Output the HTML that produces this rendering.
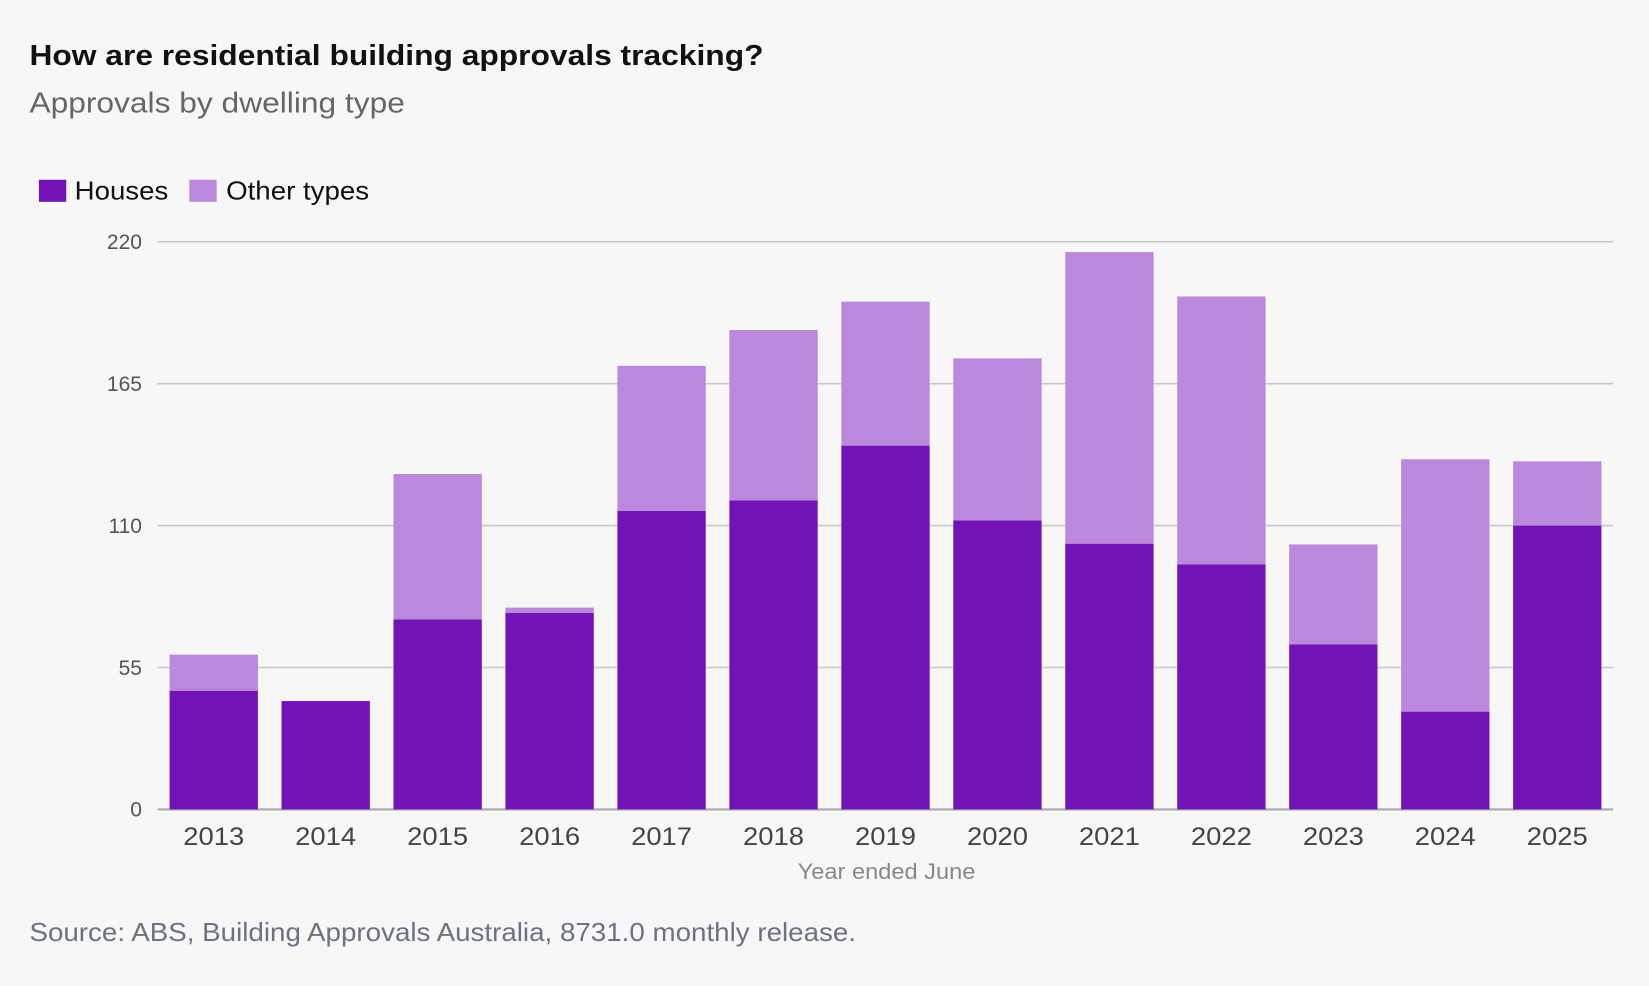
<!DOCTYPE html>
<html><head><meta charset="utf-8"><style>
html,body{margin:0;padding:0;background:#f7f7f8;}
svg{display:block;font-family:"Liberation Sans",Arial,sans-serif;}
</style></head><body>
<svg id="chart" width="1649" height="986" viewBox="0 0 1568 938" preserveAspectRatio="none">
<rect width="1568" height="938" fill="#f7f7f8"/>
<text x="28" y="62" font-size="27" font-weight="bold" fill="#111" textLength="698" lengthAdjust="spacingAndGlyphs">How are residential building approvals tracking?</text>
<text x="28" y="107" font-size="27" fill="#666" textLength="357" lengthAdjust="spacingAndGlyphs">Approvals by dwelling type</text>
<g>
<rect x="37" y="171" width="26" height="21" fill="#7213b8"/>
<text x="71" y="190" font-size="25" fill="#111" textLength="89" lengthAdjust="spacingAndGlyphs">Houses</text>
<rect x="180" y="171" width="26" height="21" fill="#bb88dd"/>
<text x="215" y="190" font-size="25" fill="#111" textLength="136" lengthAdjust="spacingAndGlyphs">Other types</text>
</g>
<g id="grid"></g>
<g id="bars"></g>
<g id="xlabels"></g>
<text x="843" y="836" font-size="21" fill="#888" text-anchor="middle" textLength="169" lengthAdjust="spacingAndGlyphs">Year ended June</text>
<text x="28" y="895" font-size="25" fill="#6b7280" textLength="786" lengthAdjust="spacingAndGlyphs">Source: ABS, Building Approvals Australia, 8731.0 monthly release.</text>
</svg>
<script>
const categories=["2013","2014","2015","2016","2017","2018","2019","2020","2021","2022","2023","2024","2025"];
const houses=[46,42,73.7,76.2,115.7,119.8,141,112,103,95,64,37.9,110];
const otherTypes=[14,0,56.3,2,56.2,66,55.8,62.8,113,103.8,38.7,97.8,24.9];
const yTicks=[0,55,110,165,220];
const NS="http://www.w3.org/2000/svg";
const x0=150,x1=1534,yBase=770,yTop=230,yMax=220;
const step=(x1-x0)/categories.length, bw=84;
const y=v=>yBase-(v/yMax)*(yBase-yTop);
const xc=i=>x0+step*(i+0.5);
function mk(t,a,p){const e=document.createElementNS(NS,t);for(const k in a)e.setAttribute(k,a[k]);p.appendChild(e);return e;}
const grid=document.getElementById('grid'),bars=document.getElementById('bars'),xl=document.getElementById('xlabels');
yTicks.forEach(t=>{
 const l=mk('line',{x1:x0,x2:x1,y1:y(t),y2:y(t),stroke:t===0?'#aaa':'#c8c8cc','stroke-width':t===0?2:1.5},grid);
 
 
 const tx=mk('text',{x:135,y:y(t)+7,'font-size':20,fill:'#555','text-anchor':'end'},grid);
 tx.textContent=t;
 
 
});
categories.forEach((c,i)=>{
 const h=houses[i],o=otherTypes[i];
 const r1=mk('rect',{x:xc(i)-bw/2,y:y(h),width:bw,height:yBase-y(h),fill:'#7213b8'},bars);
 
 
 if(o>0){
  const r2=mk('rect',{x:xc(i)-bw/2,y:y(h+o),width:bw,height:y(h)-y(h+o),fill:'#bb88dd'},bars);
  
  
 }
 const t=mk('text',{x:xc(i),y:804,'font-size':24,fill:'#444','text-anchor':'middle',textLength:58,lengthAdjust:'spacingAndGlyphs'},xl);
 t.textContent=c;
 
 
});
</script>
</body></html>
